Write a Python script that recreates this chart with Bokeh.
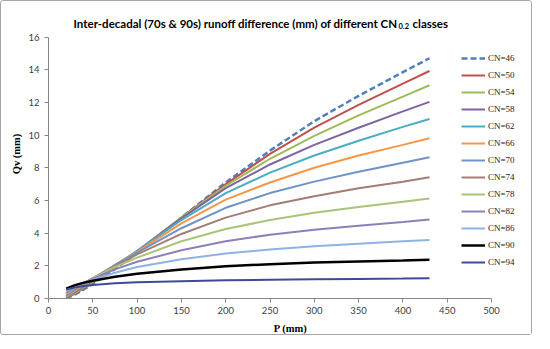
from bokeh.plotting import figure
from bokeh.models import Legend, LegendItem, Label, Range1d, FixedTicker
from bokeh.embed import file_html
from bokeh.resources import INLINE

# ---- data ----
P = [20, 30, 40, 50, 75, 100, 150, 200, 250, 300, 350, 400, 430]
cn_labels = ["CN=46", "CN=50", "CN=54", "CN=58", "CN=62", "CN=66", "CN=70",
             "CN=74", "CN=78", "CN=82", "CN=86", "CN=90", "CN=94"]
cn46 = [0.0, 0.25, 0.55, 0.9, 1.8, 2.8, 4.95, 7.1, 9.05, 10.85, 12.4, 13.85, 14.7]
cn50 = [0.03, 0.3, 0.62, 0.97, 1.88, 2.85, 4.95, 7.0, 8.85, 10.45, 11.85, 13.15, 13.92]
cn54 = [0.05, 0.35, 0.68, 1.02, 1.95, 2.9, 4.95, 6.9, 8.55, 9.95, 11.2, 12.35, 13.05]
cn58 = [0.07, 0.4, 0.74, 1.08, 2.0, 2.9, 4.9, 6.75, 8.2, 9.4, 10.45, 11.45, 12.03]
cn62 = [0.1, 0.46, 0.8, 1.13, 2.03, 2.9, 4.8, 6.45, 7.7, 8.75, 9.65, 10.5, 10.98]
cn66 = [0.13, 0.5, 0.85, 1.18, 2.05, 2.85, 4.6, 6.05, 7.1, 8.0, 8.75, 9.4, 9.8]
cn70 = [0.17, 0.55, 0.9, 1.22, 2.05, 2.8, 4.3, 5.55, 6.45, 7.15, 7.75, 8.3, 8.64]
cn74 = [0.22, 0.6, 0.93, 1.24, 2.0, 2.7, 3.95, 4.95, 5.7, 6.25, 6.75, 7.15, 7.42]
cn78 = [0.28, 0.65, 0.96, 1.24, 1.93, 2.5, 3.5, 4.25, 4.8, 5.25, 5.6, 5.92, 6.12]
cn82 = [0.35, 0.7, 0.97, 1.2, 1.78, 2.25, 2.95, 3.5, 3.9, 4.2, 4.45, 4.68, 4.84]
cn86 = [0.45, 0.75, 0.97, 1.15, 1.58, 1.93, 2.4, 2.75, 3.0, 3.2, 3.35, 3.5, 3.58]
cn90 = [0.6, 0.82, 0.97, 1.08, 1.33, 1.52, 1.78, 1.97, 2.1, 2.2, 2.27, 2.33, 2.37]
cn94 = [0.55, 0.68, 0.77, 0.83, 0.93, 0.99, 1.06, 1.11, 1.15, 1.18, 1.2, 1.22, 1.24]
series = [cn46, cn50, cn54, cn58, cn62, cn66, cn70, cn74, cn78, cn82, cn86, cn90, cn94]
x_ticks = [0, 50, 100, 150, 200, 250, 300, 350, 400, 450, 500]
y_ticks = [0, 2, 4, 6, 8, 10, 12, 14, 16]
title_main = "Inter-decadal (70s & 90s) runoff difference (mm) of different CN"
title_sub = "0.2"
title_end = "classes"

colors = ["#4F81BD", "#C0504D", "#9BBB59", "#8064A2", "#4BACC6", "#F79646", "#6F93C6",
          "#A57C74", "#A9C475", "#8E7FBB", "#8DB3E2", "#000000", "#3D4C92"]
widths = [2.5, 2, 2, 2, 2, 2, 2, 2, 2, 2, 2, 2.5, 2]

W, H = 532, 335
PX_X = 0.886   # pixels per mm on the x axis
PX_Y = 16.4    # pixels per unit on the y axis
B_LEFT, B_RIGHT, B_TOP, B_BOTTOM = 47, 1, 8, 37
FRAME_W = W - B_LEFT - B_RIGHT
FRAME_H = H - B_TOP - B_BOTTOM
p = figure(width=W, height=H, output_backend="svg", toolbar_location=None,
           x_range=Range1d(0, FRAME_W / PX_X), y_range=Range1d(0, FRAME_H / PX_Y),
           min_border_left=B_LEFT, min_border_right=B_RIGHT,
           min_border_top=B_TOP, min_border_bottom=B_BOTTOM)
p.background_fill_color = "white"
p.border_fill_color = "white"
p.outline_line_color = None
p.xgrid.visible = False
p.ygrid.visible = False
p.styles = {"border": "1px solid #A6A6A6", "border-radius": "3px"}

items = []
for lab, ys, c, w in zip(cn_labels, series, colors, widths):
    kw = dict(line_dash="6 3") if lab == "CN=46" else {}
    r = p.line(P, ys, line_color=c, line_width=w, **kw)
    items.append(LegendItem(label=lab, renderers=[r]))

for ax in (p.xaxis[0], p.yaxis[0]):
    ax.axis_line_color = "#868686"
    ax.major_tick_line_color = "#868686"
    ax.major_tick_out = 4
    ax.major_tick_in = 0
    ax.minor_tick_out = 0
    ax.minor_tick_in = 0
    ax.major_label_text_font = "Lato"
    ax.major_label_text_font_size = "9.5px"
    ax.major_label_text_color = "#404040"
    ax.axis_label_text_font = "Liberation Serif"
    ax.axis_label_text_font_style = "bold"
    ax.axis_label_text_font_size = "10.5px"
    ax.axis_label_text_color = "#000000"

p.xaxis.ticker = FixedTicker(ticks=x_ticks)
p.yaxis.ticker = FixedTicker(ticks=y_ticks)
p.xaxis.bounds = (x_ticks[0], x_ticks[-1])
p.yaxis.bounds = (y_ticks[0], y_ticks[-1])
p.xaxis.axis_label = "P (mm)"
p.yaxis.axis_label = "Qv (mm)"
p.xaxis.major_label_standoff = 4
p.yaxis.major_label_standoff = 5
p.xaxis.axis_label_standoff = 6
p.yaxis.axis_label_standoff = 3

legend = Legend(items=items, location=(413, 30), padding=0, margin=0, spacing=5,
                glyph_width=24, glyph_height=12, label_height=12, label_standoff=3,
                label_text_font="Liberation Serif", label_text_font_size="9px",
                label_text_color="#222222", background_fill_alpha=0, border_line_color=None)
p.add_layout(legend, "center")

# title in pieces so that "0.2" can be a subscript (placed in screen px inside the frame)
title_kw = dict(x_units="screen", y_units="screen", text_font="Lato", text_font_style="bold",
                text_color="#000000", text_baseline="alphabetic")
p.add_layout(Label(x=349, y=FRAME_H - 15, text=title_main,
                   text_align="right", text_font_size="11.5px", **title_kw))
p.add_layout(Label(x=350, y=FRAME_H - 17, text=title_sub, text_align="left",
                   text_font_size="7.5px", **title_kw))
p.add_layout(Label(x=364, y=FRAME_H - 15, text=title_end, text_align="left",
                   text_font_size="11.5px", **title_kw))

open("out.html", "w").write(file_html(p, INLINE))
